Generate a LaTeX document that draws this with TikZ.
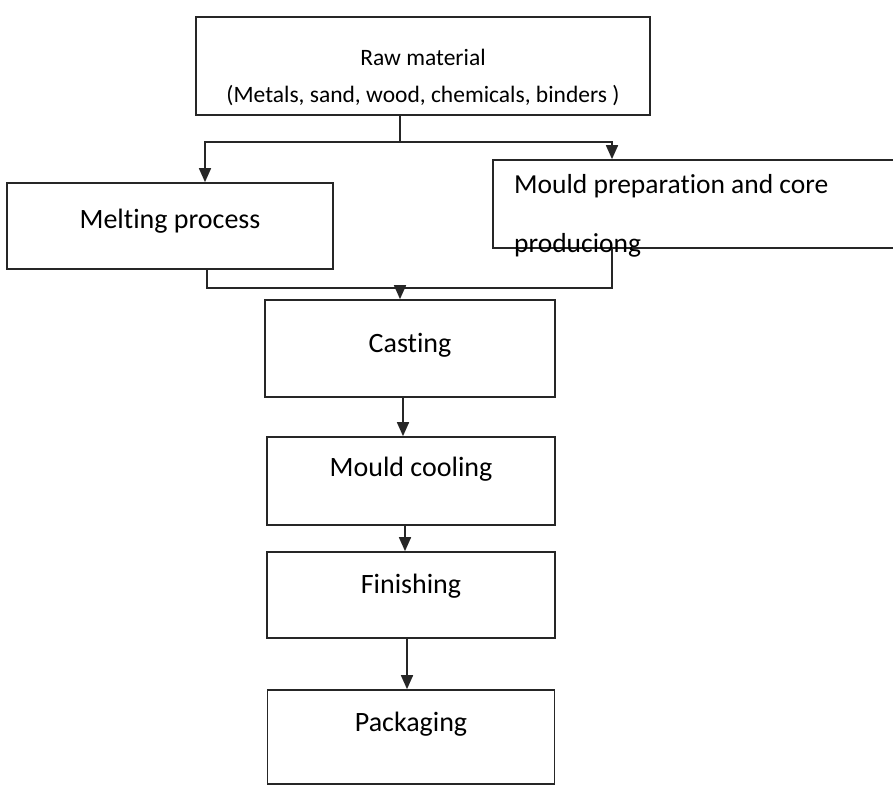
\documentclass[tikz,border=0pt]{standalone}
\usepackage{fontspec}
\setmainfont[Ligatures=NoCommon]{Carlito}
\usetikzlibrary{arrows.meta}
\begin{document}
\begin{tikzpicture}[x=1pt,y=-1pt,
  box/.style={draw=black!85,line width=1.7pt,rectangle,inner sep=2pt,font=\fontsize{28}{32}\selectfont},
  conn/.style={draw=black!85,line width=1.7pt},
  arr/.style={conn,-{Triangle[length=14pt,width=12pt]}}]
\useasboundingbox (0,0) rectangle (893,787);
\node[box,minimum width=454pt,minimum height=98pt,align=center,font=\fontsize{23.5}{37}\selectfont,text height=77pt,text depth=5pt] (raw) at (423,66)
  {Raw material\\(Metals, sand, wood, chemicals, binders )};
\node[box,minimum width=326pt,minimum height=86pt,text depth=14pt] (melt) at (170,226) {Melting process};
\node[box,minimum width=412pt,minimum height=88pt] (mould) at (699,204) {};
\node[anchor=north west,align=left,inner sep=0pt,font=\fontsize{27.5}{59}\selectfont] (mouldtext) at (514,174)
  {Mould preparation and core\\produciong};
\node[box,minimum width=290pt,minimum height=97pt,text depth=12pt] (casting) at (410,348.5) {Casting};
\node[box,minimum width=288pt,minimum height=88pt,text depth=28pt] (cooling) at (411,481) {Mould cooling};
\node[box,minimum width=288pt,minimum height=86pt,text depth=22pt] (finishing) at (411,595) {Finishing};
\node[box,minimum width=287pt,minimum height=94pt,text depth=30pt] (packaging) at (411,737) {Packaging};
% split from raw material
\coordinate (s0) at (400,142);
\draw[conn] (raw.south -| s0) -- (s0);
\draw[arr] (s0) -| (melt.north -| 205,0);
\draw[arr] (s0) -| (mould.north -| 612,0);
% join to casting
\coordinate (j0) at (400,288);
\draw[conn] (melt.south -| 207,0) |- (j0);
\draw[conn] (mould.south -| 612,0) |- (j0);
\draw[arr] (j0) -- (casting.north -| j0);
% chain
\draw[arr] (casting.south -| 403,0) -- (cooling.north -| 403,0);
\draw[arr] (cooling.south -| 405,0) -- (finishing.north -| 405,0);
\draw[arr] (finishing.south -| 407,0) -- (packaging.north -| 407,0);
\end{tikzpicture}
\end{document}
